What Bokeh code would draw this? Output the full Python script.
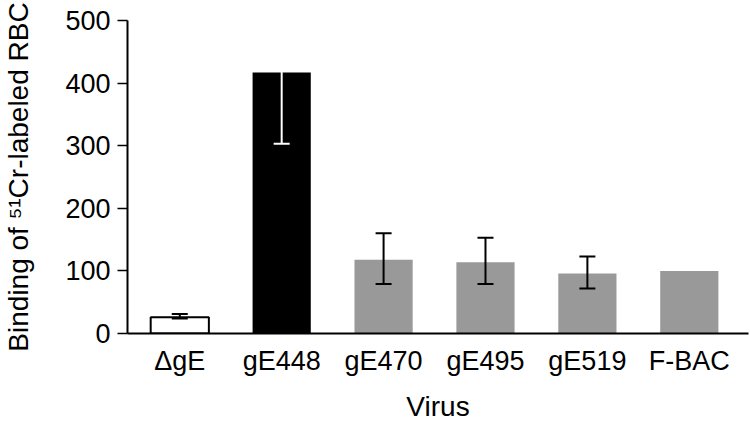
from bokeh.plotting import figure
from bokeh.models import ColumnDataSource, Range1d, Whisker, TeeHead, FixedTicker
from bokeh.embed import file_html
from bokeh.resources import INLINE

# ---- data ----
categories = ["ΔgE", "gE448", "gE470", "gE495", "gE519", "F-BAC"]
values = [26, 417, 118, 114, 96, 100]
err_lower = [24, 303, 79, 79, 72, None]
err_upper = [31, 531, 160, 153, 123, None]
y_ticks = [0, 100, 200, 300, 400, 500]

# ---- styles ----
bar_fill = ["white", "black", "#999999", "#999999", "#999999", "#999999"]
bar_outline_alpha = [1, 0, 0, 0, 0, 0]
whisker_white = [False, True, False, False, False, False]

FONT = "Liberation Sans"

xs = list(range(len(categories)))
src = ColumnDataSource(dict(x=xs, top=values, fill=bar_fill, la=bar_outline_alpha))

p = figure(width=750, height=424, output_backend="svg", toolbar_location=None,
           x_range=Range1d(-0.513, 5.581), y_range=Range1d(0, 500),
           min_border_left=124, min_border_right=2, min_border_top=20,
           min_border_bottom=90)
p.outline_line_color = None
p.xgrid.visible = False
p.ygrid.visible = False
p.background_fill_color = "white"
p.border_fill_color = "white"

p.vbar(x="x", top="top", bottom=0, width=0.571, source=src,
       fill_color="fill", line_color="black", line_alpha="la", line_width=2)

for white in (False, True):
    idx = [i for i in xs if err_lower[i] is not None and whisker_white[i] == white]
    wsrc = ColumnDataSource(dict(x=[xs[i] for i in idx],
                                 lower=[err_lower[i] for i in idx],
                                 upper=[err_upper[i] for i in idx]))
    col = "white" if white else "black"
    w = Whisker(source=wsrc, base="x", lower="lower", upper="upper",
                line_color=col, line_width=2, level="overlay",
                upper_head=TeeHead(size=16, line_color=col, line_width=2),
                lower_head=TeeHead(size=16, line_color=col, line_width=2))
    p.add_layout(w)

# x axis
xa = p.xaxis[0]
xa.ticker = FixedTicker(ticks=xs)
xa.major_label_overrides = {i: c for i, c in zip(xs, categories)}
xa.major_tick_out = 0
xa.major_tick_in = 0
xa.minor_tick_out = 0
xa.minor_tick_in = 0
xa.axis_line_width = 2
xa.axis_line_color = "black"
xa.major_label_text_font = FONT
xa.major_label_text_font_size = "27px"
xa.major_label_text_color = "black"
xa.major_label_standoff = 12
xa.axis_label = "Virus"
xa.axis_label_text_font = FONT
xa.axis_label_text_font_size = "28px"
xa.axis_label_text_font_style = "normal"
xa.axis_label_text_color = "black"
xa.axis_label_standoff = 12

# y axis
ya = p.yaxis[0]
ya.ticker = FixedTicker(ticks=y_ticks)
ya.major_tick_out = 10
ya.major_tick_in = 0
ya.minor_tick_out = 0
ya.minor_tick_in = 0
ya.major_tick_line_width = 1.5
ya.axis_line_width = 2
ya.axis_line_color = "black"
ya.major_label_text_font = FONT
ya.major_label_text_font_size = "27px"
ya.major_label_text_color = "black"
ya.major_label_standoff = 7
ya.axis_label = "Binding of \u2075\u00b9Cr-labeled RBC"
ya.axis_label_text_font = FONT
ya.axis_label_text_font_size = "28px"
ya.axis_label_text_font_style = "normal"
ya.axis_label_text_color = "black"
ya.axis_label_standoff = 28

open("out.html", "w").write(file_html(p, INLINE))
